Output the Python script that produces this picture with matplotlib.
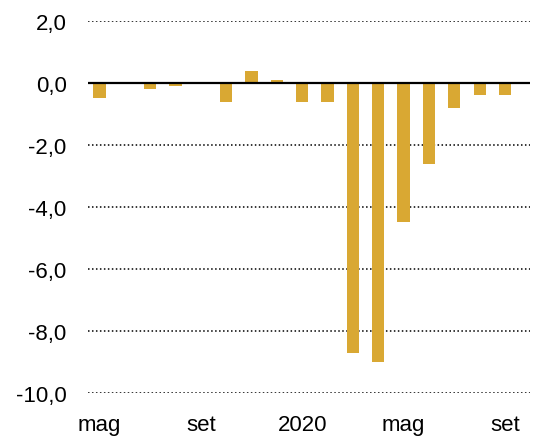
import matplotlib
matplotlib.use("Agg")
import matplotlib.pyplot as plt
import numpy as np

months = ["mag", "giu", "lug", "ago", "set", "ott", "nov", "dic",
          "2020", "feb", "mar", "apr", "mag", "giu", "lug", "ago", "set"]
values = [-0.5, 0.0, -0.2, -0.1, 0.0, -0.6, 0.4, 0.1,
          -0.6, -0.6, -8.7, -9.0, -4.5, -2.6, -0.8, -0.4, -0.4]
tick_idx = [0, 4, 8, 12, 16]
tick_labels = ["mag", "set", "2020", "mag", "set"]
y_ticks = [2, 0, -2, -4, -6, -8, -10]

plt.rcParams['font.family'] = ['Liberation Sans', 'DejaVu Sans']

fig = plt.figure(figsize=(5.34, 4.39), dpi=100)
ax = fig.add_axes([0.165, 0.1025, 0.828, 0.8475])

x = np.arange(len(values))
ax.bar(x, values, width=0.48, color="#D9A833", zorder=2)

for y in y_ticks:
    if y == 0:
        ax.axhline(0, color="black", lw=1.6, zorder=3)
    else:
        ax.axhline(y, color="black", lw=1.1, ls=(0, (1, 1.6)), zorder=1)

ax.set_ylim(-10, 2)
ax.set_xlim(-0.45, 17.0)
ax.set_yticks(y_ticks)
ax.set_yticklabels([f"{v:.1f}".replace(".", ",") for v in y_ticks], fontsize=16)
ax.set_xticks(tick_idx)
ax.set_xticklabels(tick_labels, fontsize=16)
ax.tick_params(axis="y", length=0, pad=15.5)
ax.tick_params(axis="x", length=0, pad=15)
for s in ax.spines.values():
    s.set_visible(False)

fig.savefig("out.png", dpi=100)
